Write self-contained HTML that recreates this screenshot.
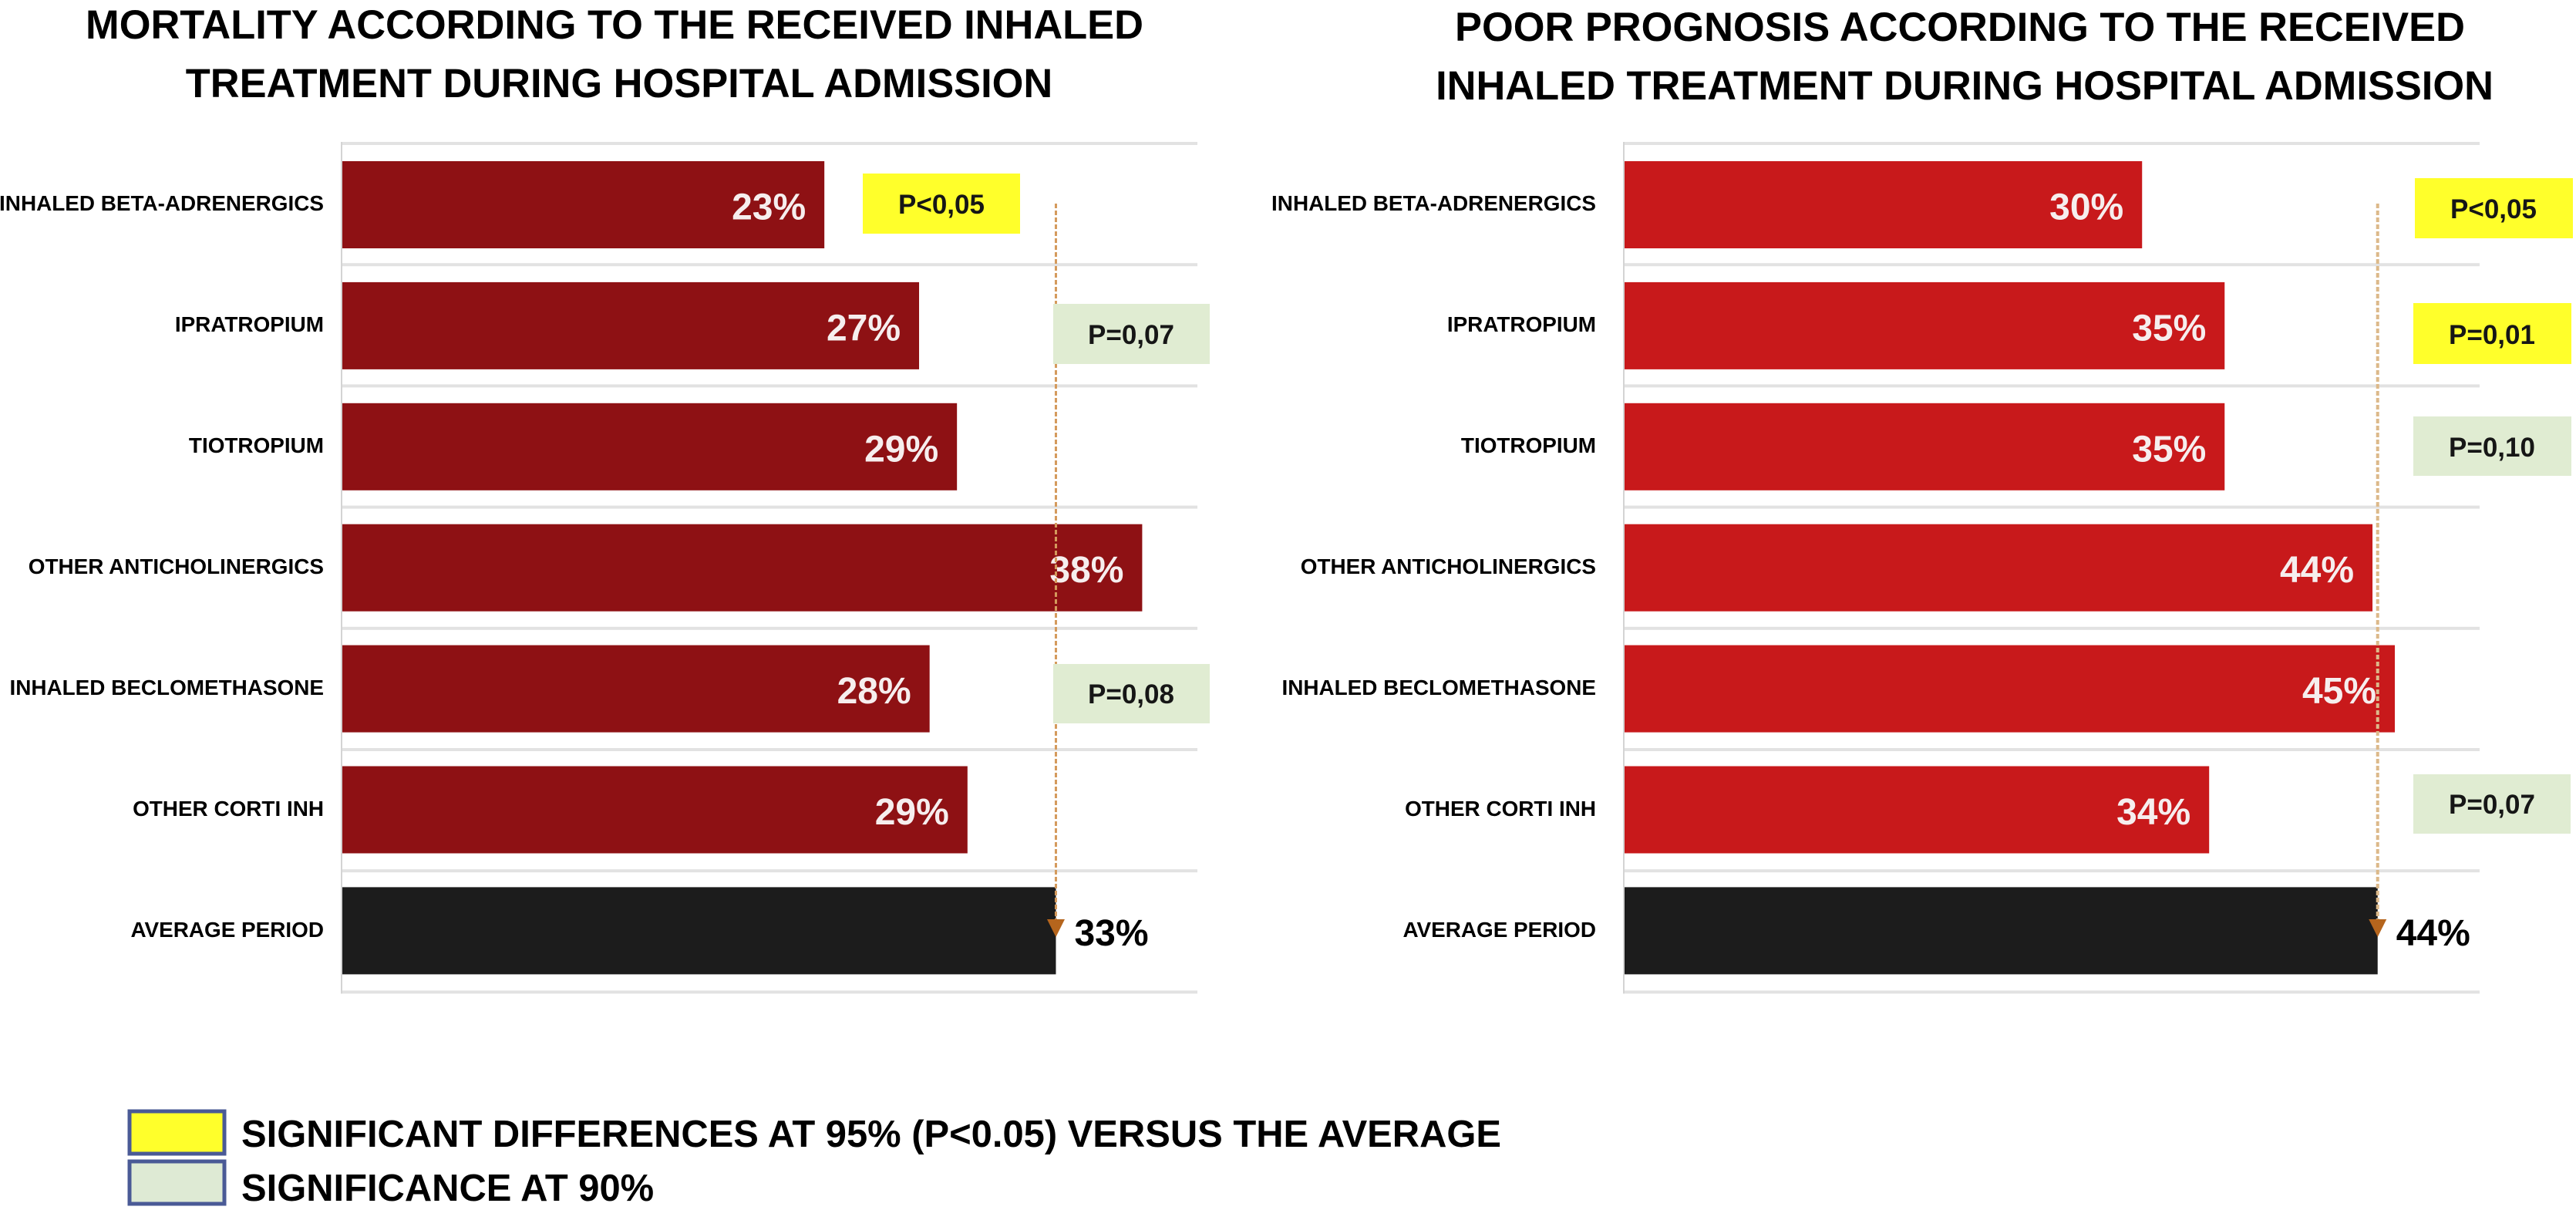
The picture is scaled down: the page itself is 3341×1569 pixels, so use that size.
<!DOCTYPE html>
<html lang="en">
<head>
<meta charset="utf-8">
<title>Mortality and poor prognosis according to inhaled treatment</title>
<style>
html,body{margin:0;padding:0;background:#fff;width:3341px;height:1569px;overflow:hidden}
svg{display:block}
text{font-family:"Liberation Sans",sans-serif;font-weight:700;fill:#000}
.title{font-size:52.4px;text-anchor:middle}
.pval{font-size:35px;text-anchor:middle;fill:#161616}
.legend{font-size:48.9px}
</style>
</head>
<body>
<svg id="chart-root" xmlns="http://www.w3.org/2000/svg" width="3341" height="1569" viewBox="0 0 3341 1569">
  <rect x="0" y="0" width="3341" height="1569" fill="#fff"/>

  <text class="title" x="797" y="50">MORTALITY ACCORDING TO THE RECEIVED INHALED</text>
  <text class="title" x="803" y="126">TREATMENT DURING HOSPITAL ADMISSION</text>
  <text class="title" x="2542" y="53">POOR PROGNOSIS ACCORDING TO THE RECEIVED</text>
  <text class="title" x="2548" y="129">INHALED TREATMENT DURING HOSPITAL ADMISSION</text>

  <g id="left-chart"></g>
  <g id="right-chart"></g>

  <g>
    <rect x="1119" y="225" width="204" height="78" fill="#ffff2b"/>
    <text class="pval" x="1221" y="277">P&lt;0,05</text>
    <rect x="1366" y="394" width="203" height="78" fill="#e0ecd2"/>
    <text class="pval" x="1467" y="446">P=0,07</text>
    <rect x="1366" y="861" width="203" height="77" fill="#e0ecd2"/>
    <text class="pval" x="1467" y="912">P=0,08</text>
  </g>

  <g>
    <rect x="3132" y="231" width="205" height="78" fill="#ffff2b"/>
    <text class="pval" x="3234" y="283">P&lt;0,05</text>
    <rect x="3130" y="393" width="205" height="79" fill="#ffff2b"/>
    <text class="pval" x="3232" y="446">P=0,01</text>
    <rect x="3130" y="540" width="205" height="77" fill="#e0ecd2"/>
    <text class="pval" x="3232" y="592">P=0,10</text>
    <rect x="3130" y="1004" width="204" height="77" fill="#e0ecd2"/>
    <text class="pval" x="3232" y="1055">P=0,07</text>
  </g>

  <g>
    <rect x="168" y="1441" width="123" height="55" fill="#ffff2b" stroke="#4a5a96" stroke-width="5"/>
    <text class="legend" x="313" y="1487">SIGNIFICANT DIFFERENCES AT 95% (P&lt;0.05) VERSUS THE AVERAGE</text>
    <rect x="168" y="1506" width="123" height="55" fill="#deead4" stroke="#4a5a96" stroke-width="5"/>
    <text class="legend" x="313" y="1557">SIGNIFICANCE AT 90%</text>
  </g>
</svg>

<script>
var categories = ['INHALED BETA-ADRENERGICS', 'IPRATROPIUM', 'TIOTROPIUM', 'OTHER ANTICHOLINERGICS', 'INHALED BECLOMETHASONE', 'OTHER CORTI INH', 'AVERAGE PERIOD'];
var mortalityValues = [22.9, 27.4, 29.2, 38.0, 27.9, 29.7, 33.9];
var mortalityLabels = ['23%', '27%', '29%', '38%', '28%', '29%', '33%'];
var prognosisValues = [30.1, 34.9, 34.9, 43.5, 44.8, 34.0, 43.8];
var prognosisLabels = ['30%', '35%', '35%', '44%', '45%', '34%', '44%'];

var SVG_NS = 'http://www.w3.org/2000/svg';

function rowTop(i) { return 209 + 156.9 * i; }
function gridY(i) { return 186 + 157.2 * i; }
function labelBaseline(i) { return 273 + 157 * i; }

function make(tag, parent, props) {
  var el = document.createElementNS(SVG_NS, tag);
  for (var k in props) { el.setAttribute(k, props[k]); }
  parent.appendChild(el);
  return el;
}

function drawChart(cfg) {
  var g = document.getElementById(cfg.id);
  var xScale = function (v) { return cfg.x0 + v * cfg.pxPerUnit; };
  var barH = 113;
  var lastIndex = categories.length - 1;

  for (var n = 0; n <= categories.length; n++) {
    var grid = make('rect', g, { x: cfg.x0 - 2, y: gridY(n) - 2, width: cfg.gridEnd - cfg.x0 + 2, height: 4, fill: '#e2e2e2' });
    
    
  }

  var axis = make('rect', g, { x: cfg.x0 - 2, y: gridY(0) - 2, width: 2, height: gridY(categories.length) - gridY(0) + 4, fill: '#d4d4d4' });
  
  

  categories.forEach(function (name, i) {
    var isAverage = i === lastIndex;
    var right = xScale(cfg.values[i]);

    var label = make('text', g, { x: cfg.labelRight, y: labelBaseline(i), 'text-anchor': 'end', 'font-size': 27.9 });
    label.textContent = name;
    
    

    var bar = make('rect', g, { x: cfg.x0, y: rowTop(i), width: right - cfg.x0, height: barH, fill: isAverage ? '#1c1c1c' : cfg.color });
    
    

    var valueText = make('text', g, {
      x: isAverage ? right + 24 : right - 24,
      y: rowTop(i) + barH / 2 + 19,
      'text-anchor': isAverage ? 'start' : 'end',
      'font-size': 48
    });
    valueText.textContent = cfg.labels[i];
    valueText.style.fill = isAverage ? '#000' : '#f6eeee';
    
    
  });

  var avgX = xScale(cfg.values[lastIndex]);
  var line = make('line', g, { x1: avgX, y1: 264, x2: avgX, y2: 1195, stroke: cfg.lineColor, 'stroke-width': cfg.lineWidth, 'stroke-dasharray': '6 3' });
  
  

  var arrow = make('polygon', g, { points: (avgX - 11.5) + ',1192 ' + (avgX + 11.5) + ',1192 ' + avgX + ',1215', fill: '#b5651d' });
  
  
}

drawChart({ id: 'left-chart', prefix: 'mortality', x0: 444, pxPerUnit: 27.3, gridEnd: 1553, labelRight: 420,
  values: mortalityValues, labels: mortalityLabels, color: '#8e1114', lineColor: '#d49a5c', lineWidth: 3 });
drawChart({ id: 'right-chart', prefix: 'prognosis', x0: 2107, pxPerUnit: 22.3, gridEnd: 3216, labelRight: 2070,
  values: prognosisValues, labels: prognosisLabels, color: '#c8191b', lineColor: '#dcb98a', lineWidth: 4 });
</script>
</body>
</html>
